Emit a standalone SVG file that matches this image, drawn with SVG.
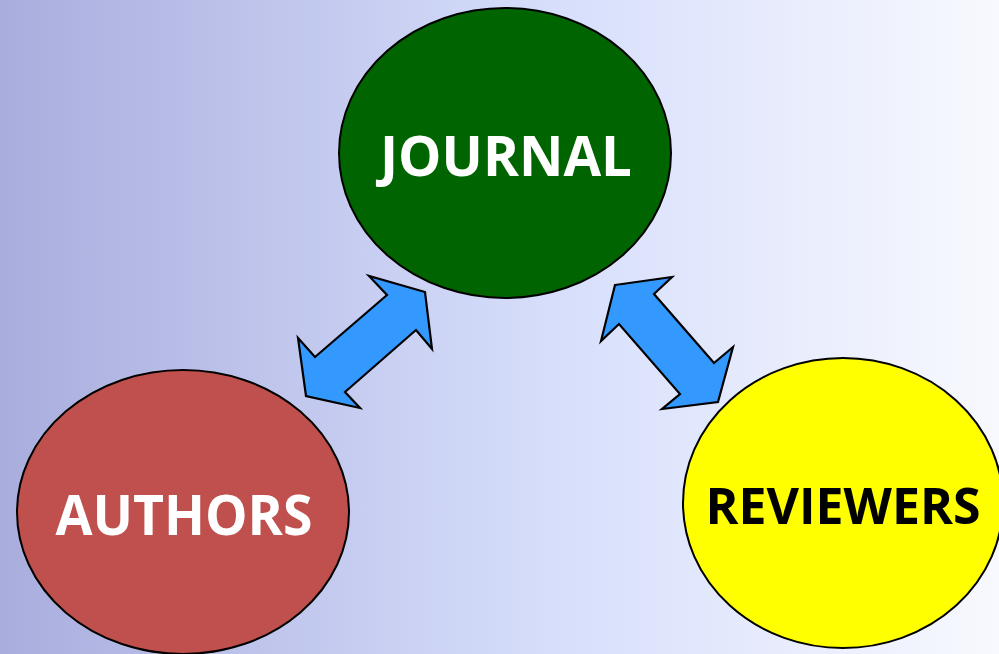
<svg xmlns="http://www.w3.org/2000/svg" width="999" height="654" viewBox="0 0 999 654">
<defs>
<linearGradient id="bg" x1="0" y1="0" x2="1" y2="0">
<stop offset="0" stop-color="#a9addd"/>
<stop offset="0.55" stop-color="#d6defb"/>
<stop offset="1" stop-color="#f8f9fe"/>
</linearGradient>
</defs>
<style>
.node{stroke:#000;stroke-width:2}
.lbl{font-family:"Open Sans","Liberation Sans",sans-serif;font-weight:bold;text-anchor:middle}
.arrow{fill:#3399ff;stroke:#000;stroke-width:2.2;stroke-linejoin:miter}
</style>
<rect width="999" height="654" fill="url(#bg)"/>
<g id="journal">
<ellipse class="node" cx="505" cy="153" rx="166" ry="145" fill="#006400"/>
<text class="lbl" x="506" y="176" font-size="56" fill="#fff" textLength="252" lengthAdjust="spacingAndGlyphs">JOURNAL</text>
</g>
<g id="authors">
<ellipse class="node" cx="183" cy="512" rx="166" ry="142" fill="#c0504d"/>
<text class="lbl" x="184" y="535" font-size="56" fill="#fff" textLength="257" lengthAdjust="spacingAndGlyphs">AUTHORS</text>
</g>
<g id="reviewers">
<ellipse class="node" cx="843" cy="503" rx="160" ry="145" fill="#ffff00"/>
<text class="lbl" x="843" y="524" font-size="50" fill="#000">REVIEWERS</text>
</g>
<g id="connectors">
<polygon class="arrow" points="425,292 369,276 387,295 315,357 298,338 306,396 360,408 345,392 416,330 432,349"/>
<polygon class="arrow" points="615,285 672,277 654,294 714,363 733,347 718,402 662,409 680,394 619,324 601,341"/>
</g>
</svg>
